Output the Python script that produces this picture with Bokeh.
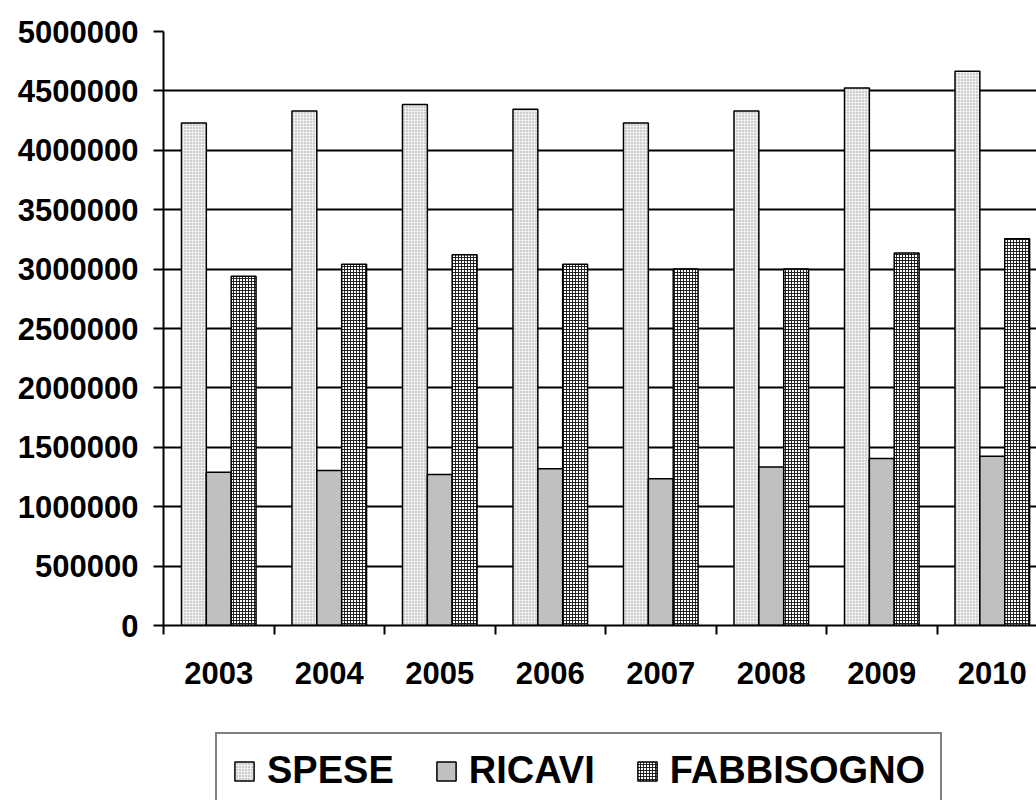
from bokeh.plotting import figure
from bokeh.models import (Range1d, FixedTicker, ColumnDataSource, BasicTickFormatter,
                          Legend, LegendItem, Grid)
from bokeh.layouts import column
from bokeh.transform import dodge
from bokeh.embed import file_html
from bokeh.resources import INLINE

years = ["2003", "2004", "2005", "2006", "2007", "2008", "2009", "2010"]
spese = [4230000, 4330000, 4385000, 4345000, 4230000, 4330000, 4525000, 4665000]
ricavi = [1290000, 1305000, 1270000, 1320000, 1235000, 1335000, 1405000, 1425000]
fabbisogno = [2940000, 3040000, 3120000, 3040000, 3000000, 3000000, 3135000, 3255000]
series_names = ["SPESE", "RICAVI", "FABBISOGNO"]
y_ticks = [0, 500000, 1000000, 1500000, 2000000, 2500000, 3000000, 3500000, 4000000, 4500000, 5000000]

FONT = "Liberation Sans"

STYLES = [
    dict(fill_color="#efefef", hatch_pattern="dot", hatch_scale=3, hatch_color="#9a9a9a",
         hatch_weight=0.8, line_color="black", line_width=1.5),
    dict(fill_color="#c0c0c0", line_color="black", line_width=1.5),
    dict(fill_color="white", hatch_pattern="cross", hatch_scale=3, hatch_color="#111111",
         hatch_weight=0.9, line_color="black", line_width=1.5),
]

src = ColumnDataSource(dict(
    x=[i + 0.5 for i in range(len(years))],
    spese=spese, ricavi=ricavi, fabbisogno=fabbisogno,
))
cols = ["spese", "ricavi", "fabbisogno"]

H1 = 705
p = figure(width=1036, height=H1, output_backend="svg", toolbar_location=None,
           x_range=Range1d(0, 7.90), y_range=Range1d(0, 5000000),
           min_border_left=163, min_border_right=0, min_border_top=31,
           min_border_bottom=H1 - 625)
p.outline_line_color = None
p.background_fill_color = "white"
p.border_fill_color = "white"

w = 0.225
offs = [-w, 0, w]
for c, o, st in zip(cols, offs, STYLES):
    p.vbar(x=dodge("x", o, range=p.x_range), top=c, width=w, source=src, **st)

# grid
p.xgrid.grid_line_color = None
p.ygrid.ticker = FixedTicker(ticks=y_ticks)
p.ygrid.grid_line_color = "black"
p.ygrid.grid_line_width = 2

# y axis
ya = p.yaxis[0]
ya.ticker = FixedTicker(ticks=y_ticks)
ya.formatter = BasicTickFormatter(use_scientific=False)
ya.axis_line_width = 2
ya.major_tick_line_width = 2
ya.major_tick_out = 10
ya.major_tick_in = 0
ya.minor_tick_line_color = None
ya.major_label_text_font = FONT
ya.major_label_text_font_style = "bold"
ya.major_label_text_font_size = "31px"
ya.major_label_text_color = "black"
ya.major_label_standoff = 15

# x axis
xa = p.xaxis[0]
xa.ticker = FixedTicker(ticks=[i + 0.5 for i in range(len(years))],
                        minor_ticks=list(range(len(years) + 1)))
xa.major_label_overrides = {i + 0.5: y for i, y in enumerate(years)}
xa.axis_line_width = 2
xa.major_tick_line_color = None
xa.major_tick_out = 0
xa.major_tick_in = 0
xa.minor_tick_line_width = 2
xa.minor_tick_out = 9
xa.minor_tick_in = 0
xa.major_label_text_font = FONT
xa.major_label_text_font_style = "bold"
xa.major_label_text_font_size = "31px"
xa.major_label_text_color = "black"
xa.major_label_standoff = 27

# legend strip below the chart (its renderers are hidden; only legend swatches show)
H2 = 800 - H1
q = figure(width=1036, height=H2, output_backend="svg", toolbar_location=None,
           x_axis_location=None, y_axis_location=None,
           x_range=Range1d(-20, -19), y_range=Range1d(-2, -1),
           min_border_left=0, min_border_right=0, min_border_top=0, min_border_bottom=0)
q.outline_line_color = None
q.background_fill_color = "white"
q.border_fill_color = "white"
for g in list(q.center):
    if isinstance(g, Grid):
        g.visible = False
        g.grid_line_color = None

items = []
for name, c, st in zip(series_names, cols, STYLES):
    r = q.vbar(x="x", top=c, width=w, source=src, **st)
    r.visible = False
    items.append(LegendItem(label=name, renderers=[r]))

lg = Legend(items=items, orientation="horizontal", location=(52, -9))
lg.label_text_font = FONT
lg.label_text_font_style = "bold"
lg.label_text_font_size = "38px"
lg.label_text_color = "black"
lg.glyph_width = 24
lg.glyph_height = 24
lg.label_standoff = 11
lg.spacing = 40
lg.padding = 15
lg.margin = 0
lg.border_line_color = "black"
lg.border_line_width = 2
lg.background_fill_alpha = 1
q.add_layout(lg, "center")

layout = column(p, q, spacing=0)
open("out.html", "w").write(file_html(layout, INLINE))
